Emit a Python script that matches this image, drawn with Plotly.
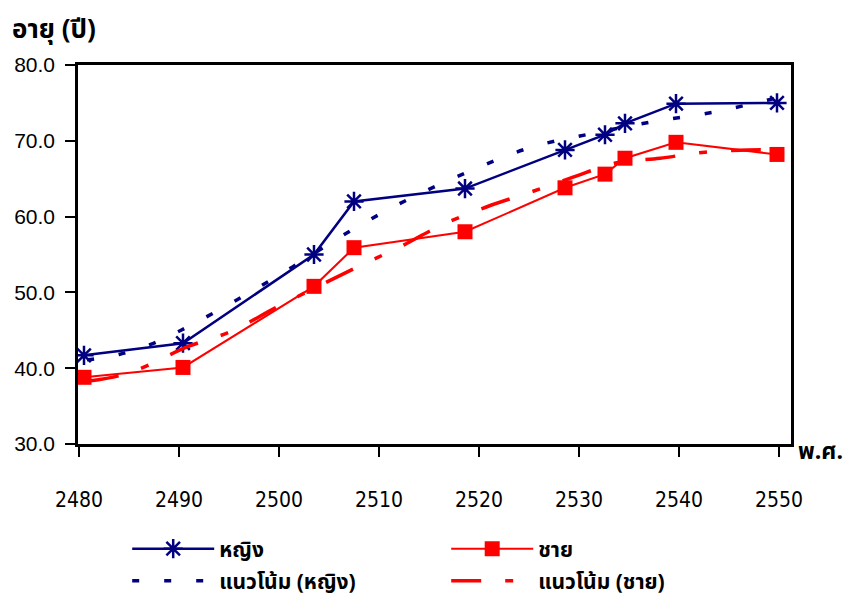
import plotly.graph_objects as go

# Survey years (B.E.) and life expectancy at birth
years = [2480.5, 2490.4, 2503.5, 2507.5, 2518.6, 2528.6, 2532.6, 2534.6, 2539.7, 2549.8]
female_age = [41.7, 43.3, 55.0, 62.0, 63.7, 68.8, 70.8, 72.3, 74.9, 75.0]
male_age = [38.8, 40.1, 50.8, 55.9, 58.0, 63.8, 65.6, 67.7, 69.8, 68.2]

# Fitted trend curves
female_trend_years = [2480.8, 2484.0, 2487.1, 2490.2, 2495.9, 2501.4, 2507.1, 2512.8, 2518.9,
                      2525.1, 2531.1, 2537.3, 2543.5, 2549.6]
female_trend_age = [41.1, 41.8, 43.1, 45.0, 49.1, 53.4, 58.1, 62.2, 65.9,
                    69.1, 70.9, 72.5, 73.8, 75.6]
male_trend_years = [2481.0, 2484.0, 2486.6, 2490.8, 2495.1, 2500.0, 2507.9, 2512.1, 2516.3,
                    2520.8, 2525.1, 2529.4, 2533.8, 2538.1, 2542.6, 2546.9, 2550.4]
male_trend_age = [38.3, 39.0, 40.2, 42.8, 44.8, 48.2, 53.4, 56.0, 58.9,
                  61.3, 63.2, 65.2, 67.1, 67.7, 68.5, 68.8, 68.8]

x_ticks = [2480, 2490, 2500, 2510, 2520, 2530, 2540, 2550]
y_ticks = [30, 40, 50, 60, 70, 80]

NAVY = "#000080"
RED = "#FF0000"
THAI_FONT = "Tahoma, 'Noto Sans Thai', 'Noto Sans', 'DejaVu Sans', sans-serif"

fig = go.Figure()

fig.add_trace(go.Scatter(
    x=years, y=female_age, mode="lines+markers", name="หญิง",
    line=dict(color=NAVY, width=2.5),
    marker=dict(symbol="asterisk-open", size=16, color=NAVY, line=dict(color=NAVY, width=2.5)),
    legend="legend",
))
fig.add_trace(go.Scatter(
    x=years, y=male_age, mode="lines+markers", name="ชาย",
    line=dict(color=RED, width=2),
    marker=dict(symbol="square", size=15, color=RED),
    legend="legend",
))
fig.add_trace(go.Scatter(
    x=female_trend_years, y=female_trend_age, mode="lines", name="แนวโน้ม (หญิง)",
    line=dict(color=NAVY, width=3.5, dash="7px,25px", shape="spline"),
    legend="legend2",
))
fig.add_trace(go.Scatter(
    x=male_trend_years, y=male_trend_age, mode="lines", name="แนวโน้ม (ชาย)",
    line=dict(color=RED, width=3.5, dash="30px,24px,8px,24px", shape="spline"),
    legend="legend2",
))

legend_common = dict(
    orientation="h", xanchor="left", yanchor="middle",
    itemwidth=82, entrywidth=222, entrywidthmode="pixels",
    font=dict(family=THAI_FONT, size=21, color="black", weight="bold"),
    bgcolor="rgba(0,0,0,0)", itemclick=False, itemdoubleclick=False,
)

fig.update_layout(
    width=843, height=598,
    margin=dict(l=78, r=52, t=65, b=154, autoexpand=False),
    paper_bgcolor="white", plot_bgcolor="white",
    showlegend=True,
    legend=dict(x=0.069, y=-0.277, **legend_common),
    legend2=dict(x=0.069, y=-0.362, **legend_common),
    xaxis=dict(
        range=[2479.9, 2551.2], tickmode="array", tickvals=x_ticks,
        ticktext=[str(v) for v in x_ticks],
        showgrid=False, zeroline=False,
        showline=True, linecolor="black", linewidth=2.5, mirror=True,
        ticks="outside", ticklen=10, tickwidth=2, tickcolor="black",
        ticklabelstandoff=25,
        tickfont=dict(family="'Liberation Sans Narrow', 'DejaVu Sans Condensed', 'Liberation Sans', sans-serif",
                      size=21, color="black"),
    ),
    yaxis=dict(
        range=[30, 80], tickmode="array", tickvals=y_ticks,
        ticktext=[f"{v:.1f}" for v in y_ticks],
        showgrid=False, zeroline=False,
        showline=True, linecolor="black", linewidth=2.5, mirror=True,
        ticks="outside", ticklen=10, tickwidth=2, tickcolor="black",
        ticklabelstandoff=6,
        tickfont=dict(family="'Liberation Sans', Arial, sans-serif", size=21, color="black"),
    ),
    annotations=[
        dict(text="อายุ (ปี)", xref="paper", yref="paper", x=-0.0954, y=1.092,
             xanchor="left", yanchor="middle", showarrow=False,
             font=dict(family=THAI_FONT, size=26, color="black", weight="bold")),
        dict(text="พ.ศ.", xref="paper", yref="paper", x=1.0075, y=-0.021,
             xanchor="left", yanchor="middle", showarrow=False,
             font=dict(family=THAI_FONT, size=23, color="black", weight="bold")),
    ],
)

fig.write_html("out.html")
